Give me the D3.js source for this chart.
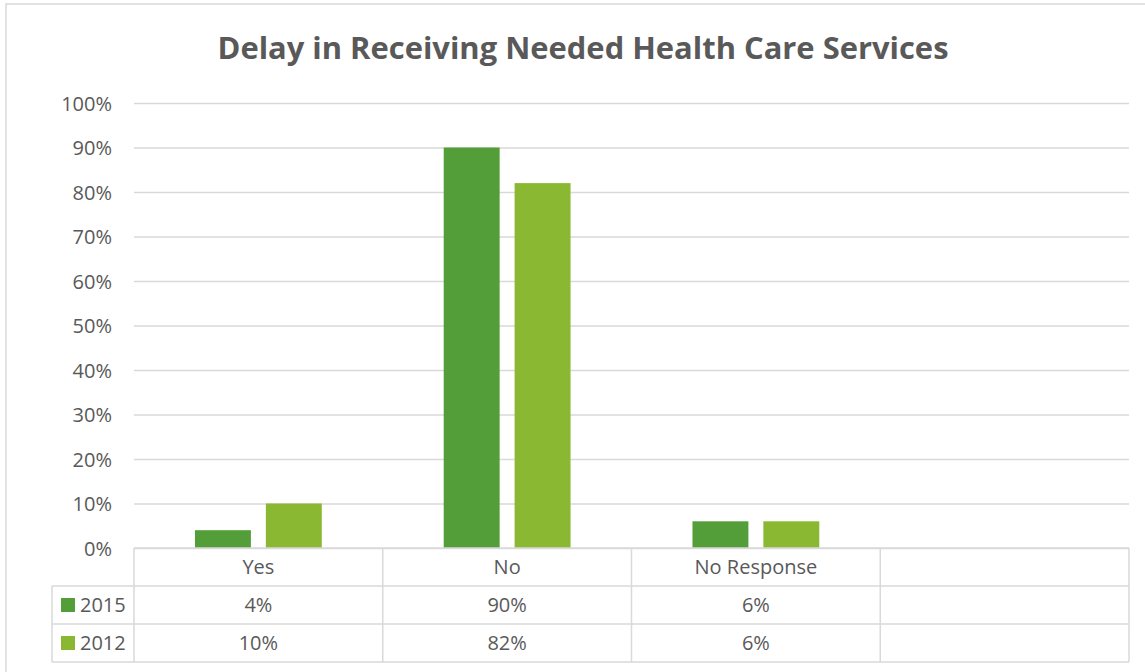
<!DOCTYPE html>
<html><head><meta charset="utf-8">
<script src="https://cdn.jsdelivr.net/npm/d3@7"></script>
<style>body{margin:0;background:#fff}</style>
</head><body>
<svg id="c" width="1145" height="672"></svg>
<script>
const title = "Delay in Receiving Needed Health Care Services";
const categories = ["Yes", "No", "No Response", ""];
const seriesNames = ["2015", "2012"];
const values2015 = [4, 90, 6, null];
const values2012 = [10, 82, 6, null];
const yTicks = [0,10,20,30,40,50,60,70,80,90,100];
const seriesColors = ["#549E39", "#8AB833"];
const seriesValues = [values2015, values2012];

(function(){
const svg = d3.select("#c");
const font = "'Open Sans', sans-serif";
const txt = "#595959", grid = "#d9d9d9";
const fs = 20;

// outer chart border (only left and top edges visible in the cropped image)
svg.append("path").attr("d","M6,672V4H1145").attr("fill","none").attr("stroke",grid).attr("stroke-width",1.5);

svg.append("text").attr("x",583).attr("y",59).attr("text-anchor","middle")
  .attr("font-family",font).attr("font-weight","bold").attr("font-size",31)
  .attr("fill",txt).attr("textLength",731).attr("lengthAdjust","spacingAndGlyphs").text(title);

const pL = 134, pR = 1129, pT = 103, pB = 548;
const x0 = d3.scaleBand().domain(categories.map((c,i)=>i)).range([pL,pR]);
const x1 = d3.scaleBand().domain(seriesNames).range([0,x0.bandwidth()]).paddingInner(0.211).paddingOuter(0.86);
const y = d3.scaleLinear().domain([0,100]).range([pB,pT]);

const yAxis = d3.axisLeft(y).tickValues(yTicks).tickFormat(d=>d+"%").tickSize(-(pR-pL)).tickPadding(22);
const ga = svg.append("g").attr("transform",`translate(${pL},0)`).call(yAxis);
ga.select(".domain").remove();
ga.selectAll(".tick line").attr("stroke",grid).attr("stroke-width",1.5);
ga.selectAll(".tick text").attr("font-family",font).attr("font-size",fs).attr("fill",txt).attr("dy","0.35em");

seriesNames.forEach((s,si)=>{
  svg.append("g").selectAll("rect").data(seriesValues[si].map((v,i)=>({v,i})).filter(d=>d.v!=null))
    .join("rect")
    .attr("x",d=>x0(d.i)+x1(s)).attr("width",x1.bandwidth())
    .attr("y",d=>y(d.v)).attr("height",d=>y(0)-y(d.v))
    .attr("fill",seriesColors[si]);
});

const rowH = 38, legL = 52;
const tg = svg.append("g").attr("stroke",grid).attr("stroke-width",1.5).attr("fill","none");
tg.append("line").attr("x1",pL).attr("x2",pR).attr("y1",pB).attr("y2",pB);
for (let r=1;r<=3;r++){
  tg.append("line").attr("x1",legL).attr("x2",pR).attr("y1",pB+r*rowH).attr("y2",pB+r*rowH);
}
tg.append("line").attr("x1",legL).attr("x2",legL).attr("y1",pB+rowH).attr("y2",pB+3*rowH);
categories.forEach((c,i)=>{
  const xx = x0(i);
  tg.append("line").attr("x1",xx).attr("x2",xx).attr("y1",pB).attr("y2",pB+3*rowH);
});
tg.append("line").attr("x1",pR).attr("x2",pR).attr("y1",pB).attr("y2",pB+3*rowH);

const cellText = (xx,yy,t,anchor)=>svg.append("text").attr("x",xx).attr("y",yy).attr("dy","0.35em")
  .attr("text-anchor",anchor||"middle").attr("font-family",font).attr("font-size",fs).attr("fill",txt).text(t);

categories.forEach((c,i)=>{
  const cx = x0(i)+x0.bandwidth()/2;
  cellText(cx, pB+rowH/2, c);
  seriesNames.forEach((s,si)=>{
    const v = seriesValues[si][i];
    if (v!=null) cellText(cx, pB+rowH*(si+1.5), v+"%");
  });
});
seriesNames.forEach((s,si)=>{
  const cy = pB+rowH*(si+1.5);
  svg.append("rect").attr("x",61).attr("y",cy-7).attr("width",14).attr("height",14).attr("fill",seriesColors[si]);
  cellText(80, cy, s, "start");
});
})();
</script>
</body></html>
